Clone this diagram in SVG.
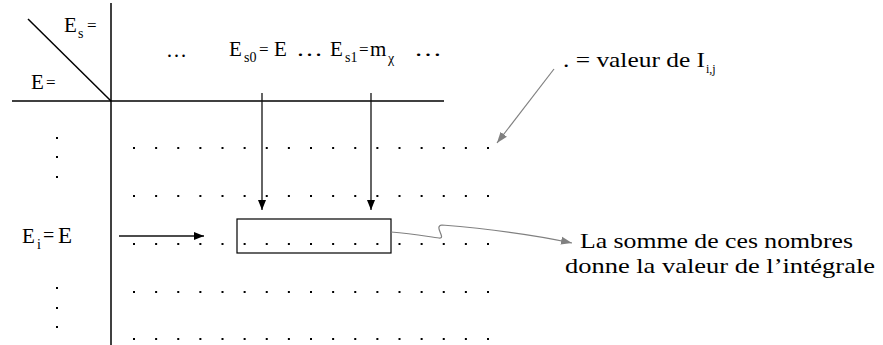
<svg xmlns="http://www.w3.org/2000/svg" width="883" height="345" viewBox="0 0 883 345">
<defs>
<style>
.t{font-family:'Liberation Serif',serif;font-size:21px;fill:#000}
.sub{font-family:'Liberation Serif',serif;font-size:14px;fill:#000}
.eq{font-family:'Liberation Serif',serif;font-size:17px;fill:#000}
.ax{stroke:#000;stroke-width:1.5;fill:none}
.dots{stroke:#000;stroke-width:2;stroke-dasharray:2 20.125;fill:none}
.vd{fill:#000}
.arr{stroke:#111;stroke-width:1.3;fill:none}
.garr{stroke:#808080;stroke-width:1.2;fill:none}
</style>
<marker id="ah" markerWidth="10" markerHeight="10" viewBox="0 0 10 10" refX="10" refY="5" orient="auto" markerUnits="userSpaceOnUse">
<path d="M0,1 L10,5 L0,9 z" fill="#000"/>
</marker>
<marker id="gah" markerWidth="11" markerHeight="9" viewBox="0 0 11 9" refX="11" refY="4.5" orient="auto" markerUnits="userSpaceOnUse">
<path d="M0,0.5 L11,4.5 L0,8.5 z" fill="#808080"/>
</marker>
</defs>
<rect width="883" height="345" fill="#fff"/>

<g id="axes">
<line class="ax" x1="111" y1="3" x2="111" y2="345"/>
<line class="ax" x1="12" y1="101" x2="444" y2="101"/>
<line class="ax" x1="28" y1="19" x2="111" y2="101" stroke-width="1.3"/>
</g>

<g id="header-labels">
<text class="t" x="64" y="32">E</text><text class="sub" x="78" y="38">s</text><text class="eq" x="87" y="31">=</text>
<text class="t" x="31" y="89">E</text><text class="eq" x="46" y="88">=</text>
<text class="t" x="166" y="57">…</text>
<text class="t" x="229" y="56">E</text>
<text class="sub" x="244" y="62">s0</text>
<text class="eq" x="259" y="55">=</text>
<text class="t" x="274" y="56">E</text>
<text class="t" x="296" y="56" textLength="27" lengthAdjust="spacingAndGlyphs">…</text>
<text class="t" x="330" y="56">E</text>
<text class="sub" x="345" y="62">s1</text>
<text class="eq" x="359" y="55">=</text>
<text class="t" x="370" y="56">m</text>
<text class="sub" x="388" y="63">χ</text>
<text class="t" x="414" y="56" textLength="28" lengthAdjust="spacingAndGlyphs">…</text>
</g>

<g id="row-labels">
<text class="t" x="22" y="243">E</text><text class="sub" x="37" y="249">i</text><text class="eq" x="43" y="242" style="font-size:20px">=</text><text class="t" x="58" y="243" style="font-size:23px">E</text>
<rect class="vd" x="56" y="137" width="2" height="2"/>
<rect class="vd" x="56" y="156" width="2" height="2"/>
<rect class="vd" x="56" y="176" width="2" height="2"/>
<rect class="vd" x="56" y="287" width="2" height="2"/>
<rect class="vd" x="56" y="307" width="2" height="2"/>
<rect class="vd" x="56" y="326" width="2" height="2"/>
</g>

<g id="legend">
<text class="t" x="563" y="67" textLength="142" lengthAdjust="spacingAndGlyphs">. = valeur de I</text><text class="sub" x="706" y="73" style="font-size:12px">i,j</text>
</g>

<g id="result-label">
<text class="t" x="580" y="248" textLength="273" lengthAdjust="spacingAndGlyphs">La somme de ces nombres</text>
<text class="t" x="565" y="273" textLength="310" lengthAdjust="spacingAndGlyphs">donne la valeur de l’intégrale</text>
</g>

<g id="grid">
<path class="dots" d="M133,148 H490"/>
<path class="dots" d="M133,196 H490"/>
<path class="dots" d="M133,244 H490"/>
<path class="dots" d="M133,292 H490"/>
<path class="dots" d="M133,339 H490"/>
</g>

<g id="selection-box">
<rect x="237" y="219" width="154" height="34" fill="none" stroke="#000" stroke-width="1.2"/>
</g>

<g id="connectors">
<line class="arr" x1="262" y1="93" x2="262" y2="210" marker-end="url(#ah)"/>
<line class="arr" x1="371" y1="93" x2="371" y2="210" marker-end="url(#ah)"/>
<line class="arr" x1="119" y1="236" x2="204" y2="236" marker-end="url(#ah)"/>
<line class="garr" x1="554" y1="69" x2="497" y2="143" marker-end="url(#gah)"/>
<path class="garr" d="M391,232 C415,234 430,237 439,238 C447,239 433,226 442,225 C490,229 540,236 572,243" marker-end="url(#gah)"/>
</g>
</svg>
